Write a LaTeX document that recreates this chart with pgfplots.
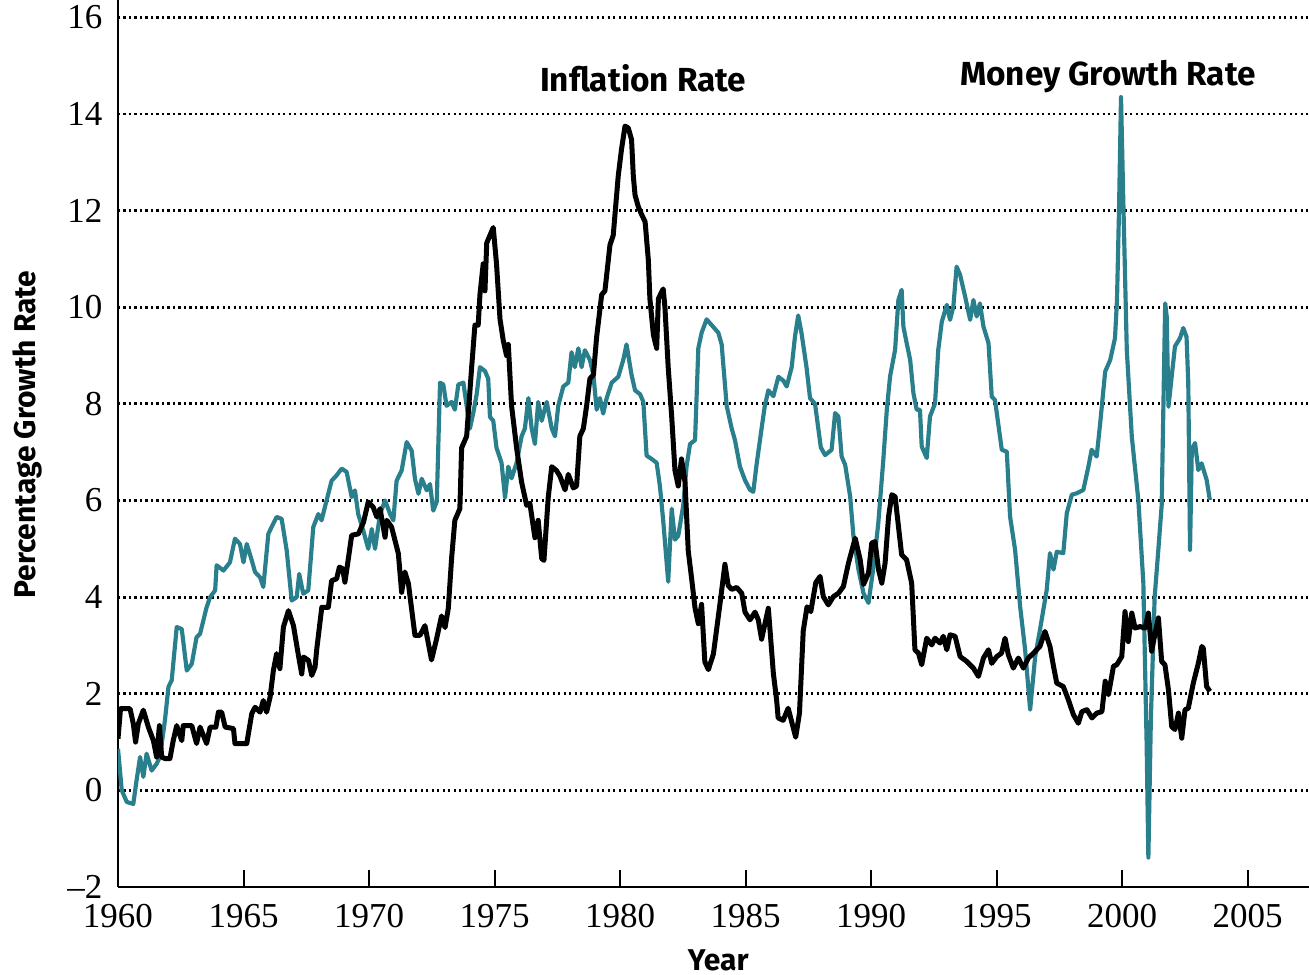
\documentclass[border=0pt]{standalone}
\usepackage{fontspec}
\setmainfont{Liberation Serif}
\newfontfamily\labfont{Fira Sans}
\usepackage{pgfplots}
\pgfplotsset{compat=1.18}
\definecolor{mgTeal}{HTML}{2A7F8C}

\begin{document}
\begin{tikzpicture}
  \useasboundingbox (-35.4pt,-26.1pt) rectangle (357.3pt,266.1pt);
  \begin{axis}[
    scale only axis,
    width=357.3pt,height=266.1pt,
    xmin=1960,xmax=2007.45,
    ymin=-2,ymax=16.36,
    axis x line*=bottom,
    axis y line*=left,
    axis line style={line width=0.6pt,black},
    xtick={1960,1965,1970,1975,1980,1985,1990,1995,2000,2005},
    xticklabels={1960,1965,1970,1975,1980,1985,1990,1995,2000,2005},
    ytick={-2,0,2,4,6,8,10,12,14,16},
    yticklabels={\textendash 2,0,2,4,6,8,10,12,14,16},
    tick align=inside,
    major tick length=5pt,
    xtick style={line width=0.6pt,black},
    ytick style={draw=none},
    ticklabel style={font=\fontsize{10.5}{12}\selectfont,inner sep=0pt},
    xticklabel style={anchor=center,yshift=-8.6pt},
    yticklabel style={anchor=east,xshift=-4.5pt},
    ymajorgrids,
    major grid style={black,line width=0.85pt,dash pattern=on 0.65pt off 1.0pt},
    xlabel={Year},
    ylabel={Percentage Growth Rate},
    every axis x label/.style={at={(axis description cs:0.504,-0.0823)},anchor=center,
      font=\labfont\bfseries\fontsize{9}{11}\selectfont},
    every axis y label/.style={at={(axis description cs:-0.0756,0.51)},rotate=90,anchor=center,
      font=\labfont\bfseries\fontsize{9}{11}\selectfont},
  ]
    % money growth rate
    \addplot[mgTeal,line width=1.25pt,line join=round] coordinates {
      (1960.0,0.86) (1960.15,0.0) (1960.35,-0.24) (1960.61,-0.28) (1960.74,0.21)
      (1960.88,0.69) (1961.01,0.28) (1961.14,0.76) (1961.34,0.41) (1961.54,0.55)
      (1961.67,0.69) (1961.87,1.45) (1962.01,2.14) (1962.14,2.28) (1962.34,3.38)
      (1962.54,3.34) (1962.74,2.48) (1962.94,2.62) (1963.13,3.17) (1963.27,3.24)
      (1963.53,3.79) (1963.67,4.0) (1963.87,4.14) (1963.93,4.66) (1964.2,4.55)
      (1964.46,4.72) (1964.66,5.21) (1964.86,5.1) (1965.0,4.72) (1965.13,5.1)
      (1965.33,4.76) (1965.46,4.52) (1965.66,4.41) (1965.79,4.21) (1965.99,5.31)
      (1966.12,5.45) (1966.32,5.66) (1966.52,5.62) (1966.72,4.97) (1966.92,3.93)
      (1967.12,4.0) (1967.22,4.48) (1967.38,4.07) (1967.58,4.14) (1967.78,5.45)
      (1967.98,5.72) (1968.11,5.59) (1968.31,6.0) (1968.51,6.41) (1968.71,6.52)
      (1968.91,6.66) (1969.11,6.59) (1969.31,6.07) (1969.44,6.21) (1969.57,5.72)
      (1969.77,5.38) (1969.97,5.0) (1970.11,5.41) (1970.24,5.0) (1970.44,5.72)
      (1970.64,6.0) (1970.84,5.72) (1970.97,5.59) (1971.1,6.41) (1971.3,6.62)
      (1971.5,7.21) (1971.7,7.03) (1971.83,6.45) (1971.97,6.14) (1972.1,6.45)
      (1972.3,6.21) (1972.43,6.34) (1972.56,5.79) (1972.7,5.98) (1972.83,8.44)
      (1972.96,8.4) (1973.09,7.96) (1973.29,8.04) (1973.42,7.88) (1973.56,8.4)
      (1973.76,8.44) (1973.89,7.96) (1974.02,7.49) (1974.15,7.8) (1974.29,8.2)
      (1974.42,8.76) (1974.62,8.68) (1974.75,8.52) (1974.82,7.73) (1974.95,7.65)
      (1975.08,7.09) (1975.28,6.78) (1975.42,6.06) (1975.55,6.7) (1975.68,6.46)
      (1975.88,6.78) (1976.08,7.33) (1976.21,7.49) (1976.35,8.12) (1976.48,7.49)
      (1976.61,7.17) (1976.74,8.04) (1976.88,7.65) (1977.08,8.04) (1977.28,7.49)
      (1977.41,7.33) (1977.54,7.96) (1977.74,8.36) (1977.94,8.44) (1978.07,9.07)
      (1978.2,8.76) (1978.34,9.15) (1978.47,8.76) (1978.6,9.11) (1978.8,8.91)
      (1978.94,8.6) (1979.07,7.88) (1979.2,8.12) (1979.33,7.8) (1979.47,8.12)
      (1979.67,8.44) (1979.93,8.56) (1980.13,8.91) (1980.26,9.23) (1980.46,8.6)
      (1980.6,8.28) (1980.8,8.2) (1980.93,8.04) (1981.06,6.93) (1981.26,6.86)
      (1981.46,6.78) (1981.59,6.3) (1981.72,5.59) (1981.92,4.32) (1982.06,5.83)
      (1982.19,5.19) (1982.32,5.27) (1982.52,5.9) (1982.65,6.7) (1982.79,7.17)
      (1982.99,7.25) (1983.12,9.15) (1983.25,9.47) (1983.45,9.75) (1983.72,9.59)
      (1983.92,9.47) (1984.05,9.23) (1984.25,7.96) (1984.45,7.49) (1984.58,7.25)
      (1984.78,6.7) (1984.98,6.42) (1985.18,6.22) (1985.31,6.18) (1985.44,6.74)
      (1985.64,7.49) (1985.77,7.96) (1985.91,8.28) (1986.11,8.16) (1986.31,8.56)
      (1986.51,8.48) (1986.64,8.36) (1986.84,8.76) (1986.97,9.39) (1987.1,9.83)
      (1987.23,9.47) (1987.43,8.76) (1987.57,8.12) (1987.77,8.0) (1988.0,7.1)
      (1988.17,6.94) (1988.43,7.05) (1988.57,7.81) (1988.7,7.74) (1988.83,6.91)
      (1988.97,6.74) (1989.17,6.08) (1989.3,5.26) (1989.5,4.57) (1989.7,4.08)
      (1989.9,3.88) (1990.1,4.63) (1990.29,5.53) (1990.49,6.84) (1990.63,7.88)
      (1990.76,8.57) (1990.96,9.12) (1991.09,10.15) (1991.22,10.36) (1991.29,9.6)
      (1991.42,9.26) (1991.56,8.91) (1991.69,8.22) (1991.82,7.88) (1991.95,7.88)
      (1992.02,7.12) (1992.22,6.88) (1992.35,7.74) (1992.55,8.01) (1992.68,9.12)
      (1992.82,9.7) (1993.02,10.05) (1993.15,9.74) (1993.28,10.01) (1993.41,10.84)
      (1993.55,10.67) (1993.75,10.22) (1993.95,9.74) (1994.08,10.15) (1994.21,9.81)
      (1994.34,10.08) (1994.48,9.6) (1994.68,9.26) (1994.81,8.15) (1994.94,8.08)
      (1995.21,7.05) (1995.41,7.01) (1995.54,5.67) (1995.74,4.98) (1995.94,3.81)
      (1996.14,2.91) (1996.34,1.67) (1996.54,2.77) (1996.73,3.32) (1997.0,4.15)
      (1997.13,4.91) (1997.27,4.57) (1997.4,4.94) (1997.66,4.91) (1997.8,5.74)
      (1998.0,6.12) (1998.2,6.15) (1998.46,6.22) (1998.66,6.7) (1998.79,7.05)
      (1998.99,6.91) (1999.13,7.6) (1999.33,8.67) (1999.53,8.91) (1999.72,9.36)
      (1999.8,10.15) (1999.88,12.0) (1999.96,14.35) (2000.06,12.0) (2000.19,9.12)
      (2000.39,7.32) (2000.65,6.01) (2000.85,4.29) (2000.98,1.0) (2001.05,-1.39)
      (2001.15,1.5) (2001.3,4.0) (2001.45,5.0) (2001.58,5.9) (2001.65,8.0)
      (2001.72,10.08) (2001.78,9.81) (2001.85,7.94) (2001.98,8.57) (2002.11,9.19)
      (2002.31,9.36) (2002.44,9.57) (2002.57,9.39) (2002.64,8.43) (2002.71,4.98)
      (2002.78,7.05) (2002.91,7.19) (2003.04,6.63) (2003.17,6.77) (2003.37,6.43)
      (2003.5,6.01)
    };
    % inflation rate
    \addplot[black,line width=1.5pt,line join=round] coordinates {
      (1960.0,1.07) (1960.1,1.69) (1960.48,1.69) (1960.61,1.38) (1960.7,1.0)
      (1960.81,1.38) (1961.01,1.66) (1961.21,1.31) (1961.41,1.03) (1961.54,0.69)
      (1961.65,1.34) (1961.74,0.69) (1961.87,0.66) (1962.07,0.66) (1962.2,1.03)
      (1962.34,1.34) (1962.54,1.03) (1962.6,1.34) (1962.94,1.34) (1963.13,0.97)
      (1963.27,1.31) (1963.53,0.97) (1963.67,1.31) (1963.9,1.31) (1964.0,1.62)
      (1964.13,1.62) (1964.27,1.31) (1964.6,1.28) (1964.66,0.97) (1965.13,0.97)
      (1965.33,1.59) (1965.46,1.72) (1965.66,1.62) (1965.79,1.86) (1965.92,1.62)
      (1966.06,1.93) (1966.19,2.48) (1966.32,2.83) (1966.45,2.52) (1966.59,3.38)
      (1966.79,3.72) (1966.99,3.41) (1967.19,2.79) (1967.32,2.41) (1967.39,2.76)
      (1967.59,2.69) (1967.72,2.38) (1967.85,2.55) (1967.92,2.93) (1968.12,3.79)
      (1968.38,3.79) (1968.51,4.34) (1968.71,4.38) (1968.82,4.62) (1968.95,4.59)
      (1969.04,4.31) (1969.14,4.66) (1969.31,5.28) (1969.58,5.31) (1969.78,5.55)
      (1969.97,5.97) (1970.17,5.86) (1970.31,5.66) (1970.44,5.83) (1970.64,5.24)
      (1970.71,5.59) (1970.9,5.45) (1971.17,4.9) (1971.3,4.1) (1971.43,4.52)
      (1971.57,4.28) (1971.83,3.21) (1972.03,3.21) (1972.23,3.41) (1972.49,2.7)
      (1972.69,3.13) (1972.89,3.61) (1973.03,3.37) (1973.16,3.77) (1973.29,4.8)
      (1973.42,5.59) (1973.62,5.83) (1973.69,7.09) (1973.89,7.33) (1974.09,8.76)
      (1974.22,9.63) (1974.35,9.63) (1974.42,10.26) (1974.55,10.9) (1974.62,10.34)
      (1974.69,11.33) (1974.82,11.49) (1974.95,11.65) (1975.08,10.9) (1975.22,9.75)
      (1975.35,9.31) (1975.48,9.0) (1975.55,9.23) (1975.68,7.96) (1975.88,7.09)
      (1976.08,6.38) (1976.28,5.9) (1976.41,5.94) (1976.61,5.23) (1976.74,5.59)
      (1976.88,4.8) (1976.97,4.76) (1977.14,6.06) (1977.28,6.7) (1977.47,6.62)
      (1977.61,6.5) (1977.81,6.22) (1977.94,6.54) (1978.14,6.26) (1978.27,6.3)
      (1978.4,7.33) (1978.54,7.49) (1978.67,7.96) (1978.8,8.52) (1978.94,8.6)
      (1979.07,9.39) (1979.27,10.26) (1979.4,10.34) (1979.6,11.29) (1979.73,11.49)
      (1979.93,12.72) (1980.06,13.27) (1980.2,13.75) (1980.33,13.71) (1980.46,13.47)
      (1980.53,12.72) (1980.6,12.32) (1980.73,12.08) (1980.86,11.92) (1981.0,11.77)
      (1981.13,10.97) (1981.19,10.18) (1981.33,9.43) (1981.46,9.15) (1981.53,10.18)
      (1981.72,10.38) (1981.79,10.0) (1981.92,8.76) (1982.06,7.73) (1982.19,6.62)
      (1982.32,6.3) (1982.45,6.86) (1982.59,6.38) (1982.72,4.95) (1982.85,4.4)
      (1982.99,3.77) (1983.12,3.45) (1983.25,3.85) (1983.38,2.66) (1983.52,2.5)
      (1983.72,2.82) (1983.98,3.85) (1984.18,4.68) (1984.31,4.24) (1984.45,4.16)
      (1984.65,4.2) (1984.85,4.08) (1984.98,3.69) (1985.18,3.53) (1985.38,3.69)
      (1985.51,3.53) (1985.64,3.13) (1985.91,3.77) (1986.11,2.42) (1986.24,1.87)
      (1986.3,1.5) (1986.5,1.45) (1986.7,1.7) (1986.85,1.4) (1987.0,1.1)
      (1987.15,1.6) (1987.3,3.3) (1987.45,3.8) (1987.6,3.7) (1987.8,4.3)
      (1987.97,4.43) (1988.1,4.01) (1988.3,3.84) (1988.5,4.01) (1988.7,4.08)
      (1988.9,4.22) (1989.1,4.7) (1989.37,5.22) (1989.57,4.77) (1989.7,4.26)
      (1989.9,4.5) (1990.03,5.12) (1990.16,5.15) (1990.3,4.57) (1990.43,4.29)
      (1990.56,4.7) (1990.7,5.67) (1990.83,6.12) (1990.96,6.08) (1991.22,4.88)
      (1991.42,4.77) (1991.62,4.29) (1991.75,2.91) (1991.89,2.84) (1992.02,2.6)
      (1992.22,3.15) (1992.42,3.01) (1992.55,3.15) (1992.75,3.05) (1992.88,3.19)
      (1993.02,2.91) (1993.15,3.22) (1993.35,3.19) (1993.55,2.77) (1993.81,2.67)
      (1994.08,2.53) (1994.28,2.36) (1994.48,2.74) (1994.68,2.91) (1994.81,2.63)
      (1995.01,2.77) (1995.2,2.84) (1995.34,3.15) (1995.47,2.81) (1995.67,2.53)
      (1995.87,2.74) (1996.07,2.53) (1996.27,2.74) (1996.47,2.84) (1996.73,2.98)
      (1996.93,3.29) (1997.13,2.98) (1997.27,2.57) (1997.4,2.22) (1997.66,2.15)
      (1997.86,1.88) (1998.06,1.57) (1998.26,1.39) (1998.4,1.63) (1998.6,1.67)
      (1998.8,1.5) (1999.0,1.6) (1999.2,1.63) (1999.33,2.26) (1999.46,1.98)
      (1999.66,2.57) (1999.79,2.6) (1999.99,2.77) (2000.12,3.7) (2000.25,3.08)
      (2000.39,3.67) (2000.52,3.36) (2000.72,3.39) (2000.92,3.36) (2001.05,3.67)
      (2001.18,2.88) (2001.32,3.26) (2001.45,3.57) (2001.58,2.67) (2001.71,2.6)
      (2001.85,2.08) (2001.98,1.32) (2002.11,1.26) (2002.25,1.6) (2002.38,1.08)
      (2002.51,1.67) (2002.64,1.7) (2002.84,2.22) (2003.04,2.63) (2003.18,2.98)
      (2003.24,2.94) (2003.37,2.15) (2003.5,2.05)
    };
    \node[font=\labfont\bfseries\fontsize{10}{12}\selectfont] at (axis cs:1980.92,14.74) {Inflation Rate};
    \node[font=\labfont\bfseries\fontsize{10}{12}\selectfont] at (axis cs:1999.44,14.78) {Money Growth Rate};
  \end{axis}
\end{tikzpicture}
\end{document}
